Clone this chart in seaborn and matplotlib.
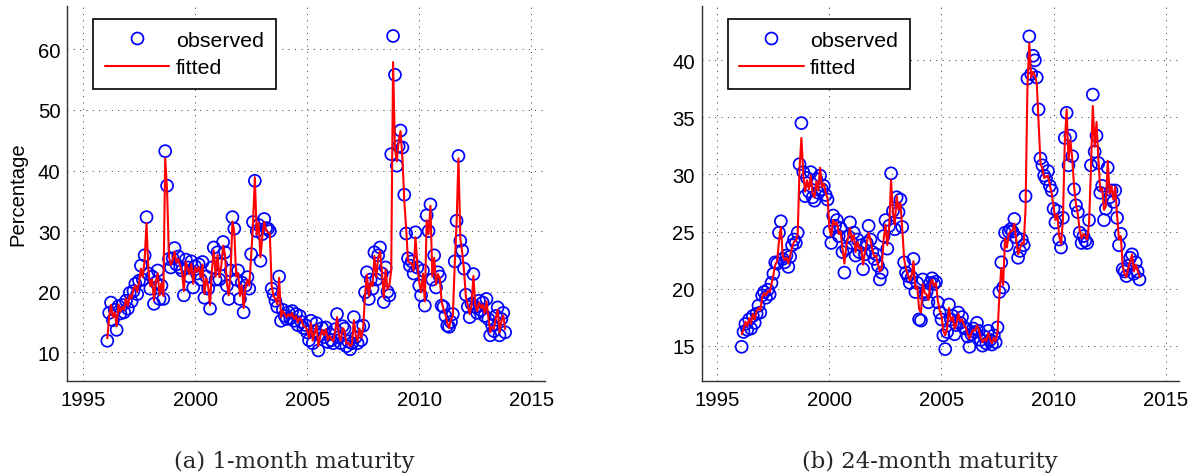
import numpy as np
import pandas as pd
import matplotlib
matplotlib.use("Agg")
import matplotlib.pyplot as plt
from matplotlib.lines import Line2D
import seaborn as sns

# ---------------- data (monthly, first point 1996 + 1/12) ----------------
obs_1m = [
    11.9, 16.5, 18.2, 15.3, 17.0, 13.7, 17.6, 16.4, 17.8, 16.6, 18.5, 17.2,
    19.8, 18.4, 20.1, 21.3, 19.6, 21.8, 24.3, 22.0, 26.0, 32.3, 23.0, 20.5,
    22.5, 18.0, 21.5, 23.5, 18.8, 21.0, 18.8, 43.2, 37.5, 25.4, 24.0, 25.5,
    27.2, 24.5, 25.8, 24.0, 23.5, 19.4, 25.3, 24.0, 22.5, 25.0, 20.7, 24.2,
    23.0, 24.5, 22.0, 24.9, 19.0, 22.5, 20.5, 17.2, 24.0, 27.3, 22.0, 26.5,
    22.0, 24.5, 28.2, 26.5, 21.0, 18.8, 23.5, 32.3, 30.4, 22.0, 23.5, 18.8,
    21.5, 16.6, 21.0, 22.4, 20.5, 26.2, 31.5, 38.3, 30.0, 31.0, 25.1, 29.5,
    32.0, 30.5, 30.4, 30.0, 20.5, 19.6, 18.5, 17.5, 22.5, 15.2, 17.0, 16.0,
    15.5, 16.6, 15.6, 16.8, 15.2, 16.3, 14.5, 16.0, 15.0, 14.0, 14.5, 13.3,
    12.0, 15.2, 11.5, 13.5, 14.8, 10.3, 12.8, 14.0, 12.5, 14.1, 11.7, 13.0,
    12.0, 11.5, 13.8, 16.3, 12.5, 11.5, 14.3, 13.9, 11.0, 11.8, 10.5, 11.5,
    15.8, 12.5, 11.5, 14.2, 12.0, 14.4, 19.9, 23.2, 18.8, 22.0, 20.5, 26.5,
    22.0, 26.0, 27.3, 23.0, 18.3, 24.0, 20.0, 19.4, 42.7, 62.2, 55.8, 40.8,
    44.0, 46.6, 43.8, 36.0, 29.6, 25.5, 24.3, 25.0, 23.0, 29.8, 24.0, 21.0,
    19.4, 23.5, 17.7, 32.6, 30.0, 34.4, 22.0, 26.0, 20.7, 23.2, 22.5, 17.7,
    17.5, 16.0, 14.4, 14.2, 15.0, 16.3, 25.0, 31.7, 42.4, 28.4, 26.8, 23.8,
    19.5, 17.5, 15.8, 18.0, 22.9, 17.5, 16.5, 18.5, 17.0, 18.2, 16.0, 18.8,
    15.5, 12.8, 14.5, 13.5, 16.0, 17.4, 12.8, 15.5, 16.5, 13.3,
]
fit_1m = [
    12.3, 15.9, 17.8, 15.8, 16.6, 14.3, 17.9, 16.7, 17.5, 17.0, 18.9, 17.6,
    19.4, 18.9, 20.4, 21.0, 20.0, 21.5, 23.8, 22.4, 25.4, 31.3, 23.6, 20.9,
    22.0, 18.6, 21.8, 23.0, 19.4, 21.4, 19.3, 42.0, 36.8, 25.8, 24.4, 25.2,
    26.6, 24.8, 25.4, 24.3, 23.2, 20.1, 25.0, 23.8, 22.9, 24.6, 21.3, 24.0,
    23.3, 24.1, 22.4, 24.5, 19.6, 22.2, 20.9, 17.8, 23.6, 26.8, 22.5, 26.1,
    22.4, 24.2, 27.6, 26.1, 21.5, 19.4, 23.2, 31.6, 29.8, 22.5, 23.1, 19.3,
    21.1, 17.3, 20.7, 22.0, 21.0, 25.8, 31.0, 38.9, 29.4, 31.4, 25.7, 29.1,
    31.5, 30.1, 29.8, 29.6, 21.0, 19.2, 18.9, 17.9, 22.3, 15.8, 16.8, 16.3,
    15.8, 16.3, 15.9, 16.5, 15.5, 16.0, 14.9, 15.7, 15.3, 14.3, 14.2, 13.7,
    12.4, 14.8, 11.9, 13.2, 14.5, 11.0, 12.6, 13.7, 12.8, 13.8, 12.0, 12.7,
    12.2, 11.8, 13.5, 15.8, 12.8, 11.9, 14.0, 13.6, 11.4, 11.6, 11.0, 11.3,
    15.3, 12.8, 11.8, 13.9, 12.4, 14.1, 19.5, 22.8, 19.3, 21.6, 20.9, 25.9,
    22.4, 25.5, 26.7, 23.4, 19.0, 23.6, 20.4, 21.0, 23.5, 57.9, 43.5, 41.5,
    45.0, 46.5, 42.0, 35.0, 30.5, 25.0, 24.8, 24.6, 23.5, 29.0, 24.5, 21.6,
    19.9, 23.0, 18.4, 31.8, 29.5, 34.2, 22.5, 25.6, 21.2, 22.9, 22.2, 18.3,
    17.2, 16.3, 14.9, 14.0, 15.4, 16.0, 24.5, 31.2, 42.0, 28.8, 26.5, 23.4,
    19.1, 17.8, 16.3, 17.7, 22.6, 17.9, 16.8, 18.2, 17.3, 17.9, 16.4, 18.4,
    15.8, 13.3, 14.2, 13.9, 15.7, 17.0, 13.3, 15.2, 16.1, 13.8,
]
obs_24m = [
    14.9, 16.2, 16.9, 16.4, 17.3, 16.5, 17.6, 17.0, 17.8, 18.5, 17.9, 19.4,
    19.7, 19.2, 19.9, 19.5, 20.5, 21.3, 22.3, 22.2, 24.9, 25.9, 22.6, 22.3,
    22.9, 21.9, 22.8, 23.8, 24.3, 24.0, 24.9, 30.9, 34.5, 30.2, 28.1, 29.7,
    28.5, 30.2, 28.0, 27.7, 29.6, 28.4, 29.9, 28.7, 29.0, 28.2, 27.8, 25.0,
    24.0, 26.4, 25.5, 26.0, 24.6, 25.3, 23.2, 21.4, 23.5, 24.6, 25.8, 24.0,
    24.9, 22.9, 24.3, 23.2, 23.8, 21.7, 23.0, 24.0, 25.5, 24.3, 23.2, 22.6,
    23.0, 22.0, 20.8, 21.4, 24.6, 26.0, 23.5, 25.5, 30.1, 26.8, 25.2, 28.0,
    26.7, 27.8, 25.4, 22.3, 21.4, 21.1, 20.5, 21.0, 22.6, 19.7, 20.5, 17.3,
    17.2, 20.8, 19.5, 19.7, 18.8, 20.5, 20.9, 20.4, 20.6, 18.8, 17.9, 17.3,
    15.9, 14.7, 16.2, 18.6, 17.3, 17.6, 16.0, 16.8, 17.9, 17.0, 17.5, 16.6,
    16.5, 15.8, 14.9, 16.0, 16.5, 16.2, 17.0, 16.3, 15.5, 15.0, 15.8, 15.2,
    16.3, 15.5, 15.1, 15.9, 15.3, 16.6, 19.7, 22.3, 20.1, 24.9, 23.8, 25.0,
    25.2, 25.0, 26.1, 24.5, 22.7, 23.3, 24.3, 23.8, 28.1, 38.4, 42.1, 38.8,
    40.4, 40.0, 38.5, 35.7, 31.4, 30.8, 29.9, 29.6, 30.3, 29.0, 28.6, 27.0,
    25.8, 26.8, 24.3, 23.6, 26.2, 33.2, 35.4, 30.8, 33.4, 31.6, 28.7, 27.3,
    26.7, 24.9, 24.0, 24.6, 24.2, 24.0, 26.0, 30.8, 37.0, 32.0, 33.4, 31.0,
    28.4, 29.0, 26.0, 27.0, 30.6, 28.0, 28.6, 27.6, 28.6, 26.2, 23.8, 24.8,
    21.7, 21.5, 21.1, 22.0, 22.7, 23.0, 21.3, 22.3, 21.5, 20.8,
]
fit_24m = [
    16.0, 16.4, 17.1, 16.7, 17.4, 16.9, 17.8, 17.3, 18.0, 18.3, 18.1, 19.2,
    19.6, 19.4, 19.8, 19.7, 20.4, 21.2, 22.1, 22.4, 24.2, 25.4, 22.9, 22.5,
    22.7, 22.2, 22.9, 23.6, 24.1, 24.2, 24.7, 30.5, 33.2, 30.0, 28.5, 29.5,
    28.7, 29.9, 28.3, 28.0, 29.4, 28.6, 30.6, 28.9, 29.2, 28.4, 27.9, 25.3,
    24.6, 26.0, 25.6, 25.8, 24.8, 25.0, 23.5, 22.2, 23.7, 24.5, 25.3, 24.2,
    24.7, 23.2, 24.1, 23.5, 23.6, 22.1, 23.2, 24.0, 24.9, 24.2, 23.4, 22.8,
    22.9, 22.1, 21.5, 21.8, 24.3, 25.6, 23.8, 25.4, 29.5, 26.7, 25.6, 28.1,
    26.9, 27.5, 25.2, 22.6, 21.7, 21.2, 20.7, 21.1, 22.4, 20.0, 20.2, 18.2,
    17.9, 20.4, 19.6, 19.5, 19.0, 20.4, 20.8, 20.2, 20.5, 19.0, 18.1, 17.6,
    16.3, 15.9, 16.5, 18.3, 17.2, 17.5, 16.5, 16.9, 17.8, 17.1, 17.3, 16.8,
    16.6, 16.0, 15.6, 16.1, 16.4, 16.3, 16.8, 16.4, 15.7, 15.3, 15.6, 15.4,
    16.1, 15.6, 15.2, 15.7, 15.4, 16.2, 19.4, 21.8, 20.3, 24.4, 23.6, 24.8,
    25.0, 25.1, 25.7, 24.3, 23.0, 23.5, 24.0, 23.9, 27.0, 37.6, 41.5, 38.5,
    39.0, 38.7, 38.0, 34.5, 31.0, 30.5, 29.7, 29.8, 29.9, 29.1, 28.3, 27.2,
    26.0, 26.5, 24.6, 23.9, 26.0, 32.8, 35.7, 31.2, 33.0, 31.4, 28.9, 27.4,
    26.5, 25.1, 24.4, 24.8, 24.6, 24.3, 25.7, 30.5, 36.0, 32.4, 34.6, 31.3,
    28.6, 28.8, 26.9, 27.2, 31.2, 28.3, 29.0, 27.8, 28.9, 26.4, 24.3, 24.6,
    22.0, 21.3, 21.0, 21.8, 22.4, 23.0, 21.5, 22.1, 21.6, 21.0,
]
x_ticks = [1995, 2000, 2005, 2010, 2015]
y_ticks_1m = [10, 20, 30, 40, 50, 60]
y_ticks_24m = [15, 20, 25, 30, 35, 40]
captions = ["(a) 1-month maturity", "(b) 24-month maturity"]
y_label = "Percentage"
legend_labels = ["observed", "fitted"]

# ---------------- style ----------------
sns.set_style("white")
plt.rcParams["font.family"] = ["Liberation Sans", "DejaVu Sans"]

fig = plt.figure(figsize=(11.98, 4.77), dpi=100)
ax1 = fig.add_axes([0.0562, 0.1998, 0.3987, 0.7855])
ax2 = fig.add_axes([0.5857, 0.1998, 0.3987, 0.7855])


def month_dates(n):
    return 1996 + (np.arange(n) + 1) / 12.0


def draw(ax, obs, fit, yticks, ylim):
    df = pd.DataFrame({"date": month_dates(len(obs)), "observed": obs, "fitted": fit})
    ax.grid(True, color="black", lw=0.7, linestyle=(0, (1, 5.5)), alpha=0.8)
    ax.set_axisbelow(True)
    sns.scatterplot(data=df, x="date", y="observed", ax=ax, marker="o", s=74,
                    facecolor="none", edgecolor="#0000ff", linewidth=1.25,
                    zorder=3, legend=False)
    sns.lineplot(data=df, x="date", y="fitted", ax=ax, color="#ff0000",
                 lw=1.5, zorder=4, legend=False)
    ax.set_xlim(1994.3, 2015.61)
    ax.set_ylim(*ylim)
    ax.set_xticks(x_ticks)
    ax.set_xticklabels([str(t) for t in x_ticks])
    ax.set_yticks(yticks)
    ax.set_yticklabels([str(t) for t in yticks])
    ax.set_xlabel("")
    ax.set_ylabel("")
    for s in ["top", "right"]:
        ax.spines[s].set_visible(False)
    for s in ["left", "bottom"]:
        ax.spines[s].set_color("#303030")
        ax.spines[s].set_linewidth(1.0)
    ax.tick_params(axis="both", direction="in", length=4, width=0.8,
                   labelsize=14.6, colors="#303030", labelcolor="black",
                   top=False, right=False)
    ax.tick_params(axis="x", pad=7)
    ax.tick_params(axis="y", pad=5)
    handles = [
        Line2D([], [], marker="o", linestyle="none", markersize=8.6,
               markerfacecolor="none", markeredgecolor="#0000ff", markeredgewidth=1.25),
        Line2D([], [], color="#ff0000", lw=1.5),
    ]
    leg = ax.legend(handles, legend_labels, loc="upper left",
                    bbox_to_anchor=(0.0544, 0.966), borderaxespad=0,
                    fontsize=15.4, handlelength=3.0, handletextpad=0.31,
                    borderpad=0.55, labelspacing=0.42, fancybox=False,
                    framealpha=1, edgecolor="black")
    leg.get_frame().set_linewidth(1.2)
    for t in leg.get_texts():
        t.set_color("black")


draw(ax1, obs_1m, fit_1m, y_ticks_1m, (5.31, 67.15))
draw(ax2, obs_24m, fit_24m, y_ticks_24m, (11.93, 44.76))

fig.text(17.5 / 1198, 1 - 194 / 477, y_label, rotation=90, ha="center",
         va="center", fontsize=14.6, color="black")

fig.text(294 / 1198, 1 - 462 / 477, captions[0], ha="center", va="center",
         fontsize=16.4, family=["DejaVu Serif"])
fig.text(930 / 1198, 1 - 462 / 477, captions[1], ha="center", va="center",
         fontsize=16.4, family=["DejaVu Serif"])

fig.savefig("out.png", dpi=100)
